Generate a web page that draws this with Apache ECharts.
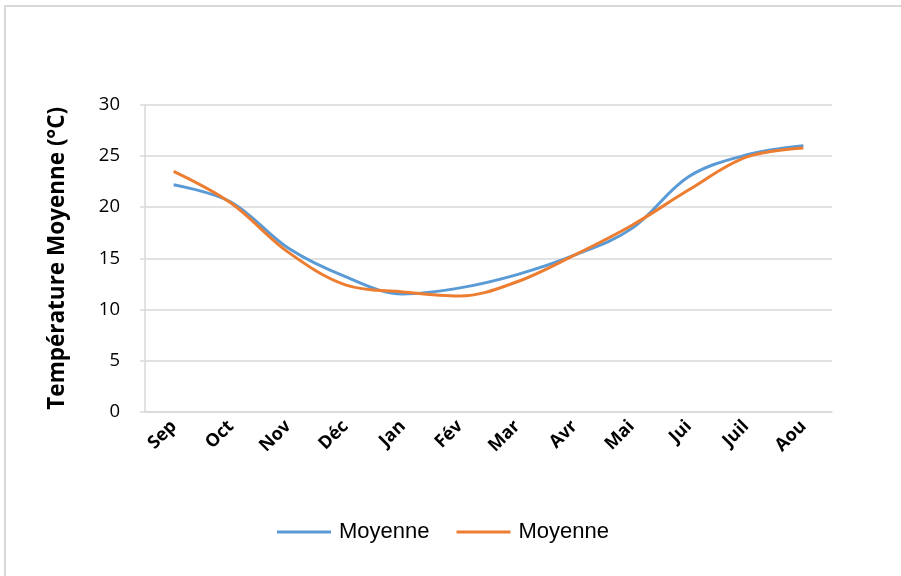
<!DOCTYPE html>
<html>
<head>
<meta charset="utf-8">
<script src="https://cdn.jsdelivr.net/npm/echarts@6/dist/echarts.min.js"></script>
<style>
  html, body { margin: 0; padding: 0; background: #fff; }
  #frame { position: absolute; left: 4px; top: 5px; width: 910px; height: 590px; border: 2px solid #d9d9d9; box-sizing: border-box; }
  #chart { position: absolute; left: 0; top: 0; width: 901px; height: 576px; }
</style>
</head>
<body>
<div id="frame"></div>
<div id="chart"></div>
<script>
// Mois de l'année scolaire (septembre à août)
const months = ['Sep', 'Oct', 'Nov', 'Déc', 'Jan', 'Fév', 'Mar', 'Avr', 'Mai', 'Jui', 'Juil', 'Aou'];
// Températures moyennes mensuelles (°C)
const moyenneA = [22.2, 20.5, 16.0, 13.2, 11.5, 12.1, 13.4, 15.3, 17.9, 23.0, 25.1, 26.0];
const moyenneB = [23.5, 20.4, 15.6, 12.4, 11.7, 11.3, 12.7, 15.3, 18.2, 21.7, 24.9, 25.8];
const yTitle = 'Température Moyenne (°C)';
const legendLabel = 'Moyenne';
// Internal series keys (the legend shows legendLabel for both)
const keyA = 'moyenne-a';
const keyB = 'moyenne-b';

const chart = echarts.init(document.getElementById('chart'), null, { renderer: 'canvas' });

const lineSeries = (name, data, color) => ({
  name: name,
  type: 'line',
  data: data,
  smooth: 0.35,
  symbol: 'none',
  lineStyle: { color: color, width: 3 },
  itemStyle: { color: color }
});

chart.setOption({
  animation: false,
  backgroundColor: 'transparent',
  grid: { left: 145, right: 69, top: 105, bottom: 164.5 },
  legend: {
    bottom: 28,
    left: 272,
    itemWidth: 54,
    itemHeight: 3,
    itemGap: 27,
    icon: 'rect',
    formatter: () => legendLabel,
    textStyle: { fontFamily: 'Liberation Sans', fontSize: 22, color: '#000', padding: [0, 0, 0, 3] },
    data: [keyA, keyB]
  },
  xAxis: {
    type: 'category',
    data: months,
    boundaryGap: true,
    axisLine: { show: true, lineStyle: { color: '#d9d9d9', width: 1.5 } },
    axisTick: { show: false },
    axisLabel: {
      rotate: 45,
      interval: 0,
      margin: 12,
      fontFamily: 'Open Sans',
      fontWeight: 'bold',
      fontSize: 18,
      color: '#000'
    }
  },
  yAxis: {
    type: 'value',
    min: 0,
    max: 30,
    interval: 5,
    name: yTitle,
    nameLocation: 'middle',
    nameGap: 76,
    nameRotate: 90,
    nameTextStyle: { fontFamily: 'Open Sans', fontWeight: 'bold', fontSize: 22.5, color: '#000' },
    axisLine: { show: true, lineStyle: { color: '#d9d9d9', width: 1.5 } },
    axisTick: { show: true, length: 5, lineStyle: { color: '#d9d9d9', width: 1.5 } },
    axisLabel: { margin: 25, fontFamily: 'Open Sans', fontSize: 18.5, color: '#000' },
    splitLine: { lineStyle: { color: '#d9d9d9', width: 1.5 } }
  },
  series: [
    lineSeries(keyA, moyenneA, '#5B9BD5'),
    lineSeries(keyB, moyenneB, '#ED7D31')
  ]
});
</script>
</body>
</html>
